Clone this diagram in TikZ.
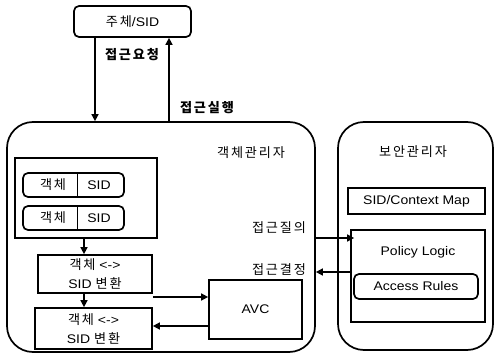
\documentclass[tikz,border=0pt]{standalone}
\usepackage{fontspec}
\setmainfont{Liberation Sans}[FakeStretch=1.12]
\newfontfamily\kr{Noto Sans CJK KR}[Scale=1.05,LetterSpace=14]
\newcommand{\K}[1]{{\kr #1}}
\usetikzlibrary{arrows.meta,calc}
\tikzset{
  box/.style={draw, line width=1.7pt, inner sep=0pt},
  rbox/.style={box, rounded corners=5pt},
  big/.style={box, rounded corners=26pt},
  arr/.style={line width=1.5pt, -{Triangle[length=7pt,width=7pt]}},
  txt/.style={font=\fontsize{12.5}{19}\selectfont, align=center, inner sep=0pt},
  lbl/.style={txt, font=\fontsize{12.5}{19}\selectfont\bfseries}
}
\begin{document}
\begin{tikzpicture}[x=1pt,y=-1pt]
\useasboundingbox (0,0) rectangle (495,358);
% top
\node[rbox, minimum width=117pt, minimum height=31pt, txt] (top) at (132.5,21.5) {\K{주체}/SID};
% object manager
\node[big, minimum width=308pt, minimum height=230pt] (om) at (161,237) {};
\node[txt] (omlbl) at (251,153) {\K{객체관리자}};
\node[box, minimum width=142pt, minimum height=80pt] (inner) at (86,198) {};
\node[rbox, minimum width=101pt, minimum height=24pt] (s1) at (73.5,185) {};
\node[rbox, minimum width=101pt, minimum height=24pt] (s2) at (73.5,218) {};
\coordinate (dv) at (77,0);
\draw[line width=0.6pt] (dv |- s1.north) -- (dv |- s1.south);
\draw[line width=0.6pt] (dv |- s2.north) -- (dv |- s2.south);
\node[txt] (s1a) at (53,185) {\K{객체}};
\node[txt] (s1b) at (99,185) {SID};
\node[txt] (s2a) at (53,218) {\K{객체}};
\node[txt] (s2b) at (99,218) {SID};
\node[box, minimum width=114pt, minimum height=38pt, txt] (c1) at (95,274) {\K{객체} <->\\SID \K{변환}};
\node[box, minimum width=117pt, minimum height=41pt, txt] (c2) at (93.5,328.5) {\K{객체} <->\\SID \K{변환}};
\node[box, minimum width=93pt, minimum height=59pt, txt] (avc) at (255.5,309.5) {AVC};
% security manager
\node[big, minimum width=155pt, minimum height=228pt] (sm) at (415.5,236) {};
\node[txt] (smlbl) at (413,152) {\K{보안관리자}};
\node[box, minimum width=137pt, minimum height=26pt, txt] (map) at (416.5,201) {SID/Context Map};
\node[box, minimum width=134pt, minimum height=92pt] (pol) at (418,276) {};
\node[txt] (pollbl) at (418,252) {Policy Logic};
\node[rbox, minimum width=124pt, minimum height=25pt, txt] (ar) at (416,286.5) {Access Rules};
% arrows
\coordinate (xd) at (95,0);
\coordinate (xu) at (169,0);
\draw[arr] (xd |- top.south) -- (xd |- om.north);
\draw[arr] (xu |- om.north) -- (xu |- top.south);
\node[lbl] (l1) at (132,55) {\K{접근요청}};
\node[lbl] (l2) at (207,108) {\K{접근실행}};
\coordinate (xi) at (84,0);
\draw[arr] (xi |- inner.south) -- (xi |- c1.north);
\draw[arr] (xi |- c1.south) -- (xi |- c2.north);
\coordinate (y1) at (0,297);
\coordinate (y2) at (0,326);
\draw[arr] (c1.east |- y1) -- (avc.west |- y1);
\draw[arr] (avc.west |- y2) -- (c2.east |- y2);
\coordinate (y3) at (0,238);
\coordinate (y4) at (0,272);
\draw[arr] (om.east |- y3) -- ($(pol.west |- y3)+(4,0)$);
\draw[arr] ($(pol.west |- y4)+(2,0)$) -- (om.east |- y4);
\node[txt] (l3) at (279,228) {\K{접근질의}};
\node[txt] (l4) at (279,270) {\K{접근결정}};
\end{tikzpicture}
\end{document}
